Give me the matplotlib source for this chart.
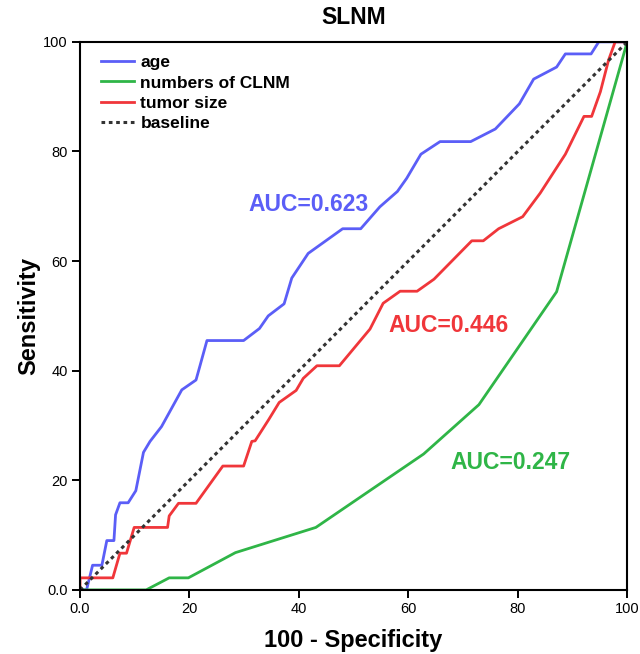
import matplotlib.pyplot as plt

plt.rcParams['font.family'] = ['Liberation Sans', 'DejaVu Sans']

# ROC points (100 - specificity, sensitivity)
age_x = [0, 1.2, 2.3, 4.0, 4.9, 6.2, 6.5, 7.3, 8.8, 10.2, 11.6, 12.8, 14.9, 18.6, 21.2,
         21.9, 23.2, 29.9, 32.8, 34.4, 37.3, 38.7, 41.7, 48.0, 51.3, 54.8, 58.0, 59.7,
         62.3, 65.8, 71.4, 75.9, 80.3, 82.9, 87.1, 88.7, 93.4, 94.8, 100]
age_y = [0, 0, 4.5, 4.5, 9.0, 9.0, 13.7, 15.9, 15.9, 18.1, 25.1, 27.1, 29.8, 36.5, 38.3,
         40.8, 45.5, 45.5, 47.7, 50.0, 52.2, 56.9, 61.4, 65.9, 65.9, 69.9, 72.7, 75.1,
         79.5, 81.8, 81.8, 84.1, 88.7, 93.2, 95.4, 97.8, 97.8, 100, 100]

size_x = [0, 0, 6.0, 7.3, 8.5, 9.9, 16.0, 16.3, 18.0, 21.2, 26.1, 29.9, 31.4, 32.0, 34.5,
          36.4, 39.5, 40.8, 43.3, 47.4, 53.0, 55.4, 58.5, 61.6, 64.7, 71.6, 73.7, 76.5,
          80.9, 84.1, 88.7, 92.1, 93.5, 95.1, 96.6, 97.8, 100]
size_y = [0, 2.2, 2.2, 6.7, 6.7, 11.4, 11.4, 13.5, 15.8, 15.8, 22.6, 22.6, 27.1, 27.2, 31.1,
          34.2, 36.4, 38.6, 40.9, 40.9, 47.6, 52.3, 54.5, 54.5, 56.7, 63.7, 63.7, 65.9,
          68.1, 72.4, 79.5, 86.4, 86.4, 90.9, 96.7, 100, 100]

clnm_x = [0, 12.1, 16.3, 19.8, 28.4, 43.1, 62.8, 72.9, 87.1, 100]
clnm_y = [0, 0, 2.2, 2.2, 6.8, 11.4, 24.8, 33.8, 54.4, 100]

labels = ['age', 'numbers of CLNM', 'tumor size', 'baseline']
auc_text = ['AUC=0.623', 'AUC=0.247', 'AUC=0.446']

blue = '#5b5ef7'
green = '#2fb547'
red = '#f0363a'

fig = plt.figure(figsize=(6.4, 6.54), dpi=100)
ax = fig.add_axes([0.125, 0.098, 0.855, 0.838])

ax.plot(age_x, age_y, color=blue, lw=2, label=labels[0])
ax.plot(clnm_x, clnm_y, color=green, lw=2, label=labels[1])
ax.plot(size_x, size_y, color=red, lw=2, label=labels[2])
ax.plot([0, 100], [0, 100], color='#333333', lw=2.2, ls=(0, (1.2, 1.2)), label=labels[3])

ax.text(41.7, 70.3, auc_text[0], color=blue, fontsize=16.5, fontweight='bold', ha='center', va='center')
ax.text(78.6, 23.2, auc_text[1], color=green, fontsize=16.5, fontweight='bold', ha='center', va='center')
ax.text(67.3, 48.2, auc_text[2], color=red, fontsize=16.5, fontweight='bold', ha='center', va='center')

ax.set_xlim(0, 100)
ax.set_ylim(0, 100)
ticks = [0, 20, 40, 60, 80, 100]
ticklabels = ['0.0', '20', '40', '60', '80', '100']
ax.set_xticks(ticks)
ax.set_xticklabels(ticklabels)
ax.set_yticks(ticks)
ax.set_yticklabels(ticklabels)
ax.tick_params(direction='out', length=6, width=1.4, labelsize=10.5, pad=3)
for s in ax.spines.values():
    s.set_linewidth(1.5)

ax.set_title('SLNM', fontsize=16.5, fontweight='bold', pad=13)
ax.set_xlabel('100 - Specificity', fontsize=17, fontweight='bold', labelpad=9)
ax.set_ylabel('Sensitivity', fontsize=17, fontweight='bold', labelpad=2)

leg = ax.legend(loc='upper left', frameon=False, prop={'weight': 'bold', 'size': 12.5},
                handlelength=1.9, handletextpad=0.35, labelspacing=0.3,
                borderaxespad=0.2, bbox_to_anchor=(0.02, 0.995))

plt.savefig('out.png', dpi=100)
